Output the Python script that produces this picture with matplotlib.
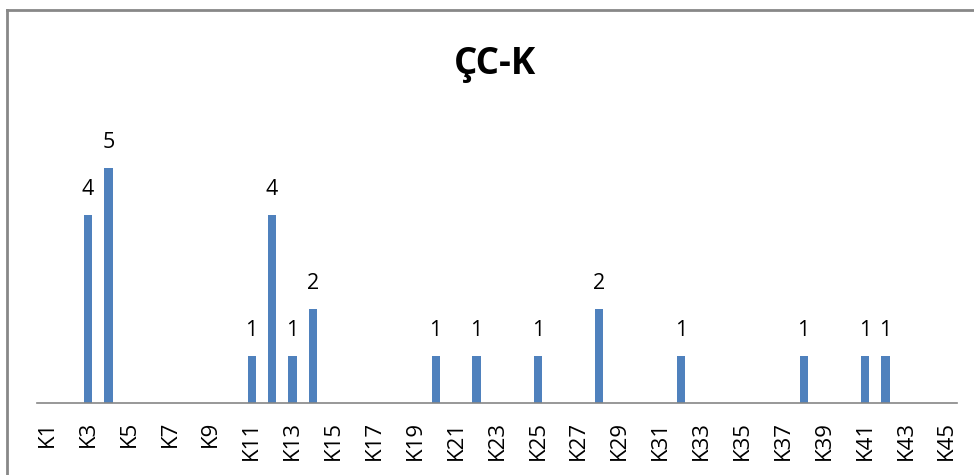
import matplotlib.pyplot as plt
import numpy as np

# category names and counts
categories = [f"K{i}" for i in range(1, 46)]
counts = [0, 0, 4, 5, 0, 0, 0, 0, 0, 0,
          1, 4, 1, 2, 0, 0, 0, 0, 0, 1,
          0, 1, 0, 0, 1, 0, 0, 2, 0, 0,
          0, 1, 0, 0, 0, 0, 0, 1, 0, 0,
          1, 1, 0, 0, 0]
title = "ÇC-K"

BAR = "#4F81BD"
plt.rcParams['font.family'] = ['Open Sans', 'DejaVu Sans']

fig = plt.figure(figsize=(9.74, 4.75), dpi=100)
ax = fig.add_axes([37 / 974, 72 / 475, 920 / 974, 282 / 475])

x = np.arange(len(categories))
bars = ax.bar(x, counts, width=0.4, color=BAR)
for b, v in zip(bars, counts):
    if v:
        ax.text(b.get_x() + b.get_width() / 2, v + 0.55, str(v),
                ha="center", va="center", fontsize=15.5, color="#000000")

ax.set_xlim(-0.5, len(categories) - 0.5)
ax.set_ylim(0, 6)
ax.set_xticks(x[::2])
ax.set_xticklabels(categories[::2], rotation=90, fontsize=16)
ax.tick_params(axis="x", length=0, pad=13)
ax.set_yticks([])
for s in ["top", "right", "left"]:
    ax.spines[s].set_visible(False)
ax.spines["bottom"].set_color("#868686")
ax.spines["bottom"].set_linewidth(1.2)

fig.text(495 / 974, 1 - 64 / 475, title, ha="center", va="center",
         fontsize=26.5, fontweight="bold")

# outer chart border (only top and left visible in the crop)
fig.add_artist(plt.Line2D([7 / 974, 1], [1 - 10 / 475, 1 - 10 / 475],
                          color="#888888", lw=2, transform=fig.transFigure))
fig.add_artist(plt.Line2D([7 / 974, 7 / 974], [0, 1 - 10 / 475],
                          color="#888888", lw=2, transform=fig.transFigure))

fig.savefig("out.png", dpi=100)
